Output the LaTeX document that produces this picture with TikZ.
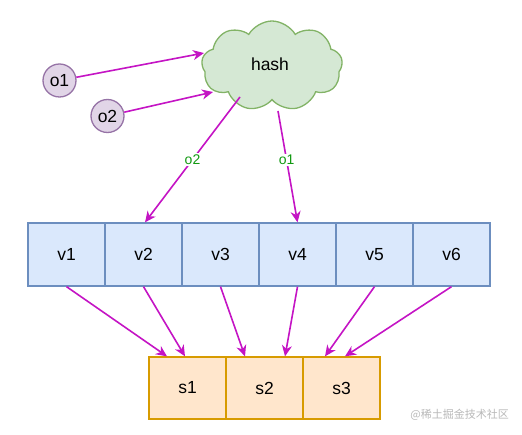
\documentclass[tikz,border=0pt]{standalone}
\usepackage{fontspec}
\setmainfont{Liberation Sans}
\newfontfamily\cjk{Noto Sans CJK SC}
\usetikzlibrary{arrows.meta,shapes.symbols}
\definecolor{arr}{HTML}{C414C4}
\definecolor{lblgreen}{HTML}{119911}
\definecolor{pfill}{HTML}{E1D5E7}
\definecolor{pdraw}{HTML}{9673A6}
\definecolor{gfill}{HTML}{D5E8D4}
\definecolor{gdraw}{HTML}{82B366}
\definecolor{bfill}{HTML}{DAE8FC}
\definecolor{bdraw}{HTML}{6C8EBF}
\definecolor{ofill}{HTML}{FFE6CC}
\definecolor{odraw}{HTML}{D79B00}
\tikzset{
  x=1pt,y=-1pt,
  every node/.style={font=\fontsize{17.5}{19}\selectfont},
  obj/.style={circle,fill=pfill,draw=pdraw,line width=1.3pt,minimum size=33pt,inner sep=0pt},
  vbox/.style={rectangle,fill=bfill,draw=bdraw,line width=1.3pt,minimum width=77pt,minimum height=63pt,inner sep=0pt},
  sbox/.style={rectangle,fill=ofill,draw=odraw,line width=1.3pt,minimum width=77pt,minimum height=62pt,inner sep=0pt},
  conn/.style={draw=arr,line width=1.6pt,-{Stealth[length=11pt,width=10pt,inset=3.5pt]}},
  lbl/.style={fill=white,text=lblgreen,inner sep=1.5pt,font=\fontsize{14}{16}\selectfont},
}
\begin{document}
\begin{tikzpicture}
\useasboundingbox (0,0) rectangle (522,435);
\node[cloud,cloud puffs=9,cloud puff arc=120,aspect=1.6,fill=gfill,draw=gdraw,line width=1.3pt,minimum width=141pt,minimum height=90pt,inner sep=0pt] (hash) at (272,66) {};
\node at (270,64) (hashtxt) {hash};
\node[obj] (o1) at (59.5,80.5) {o1};
\node[obj] (o2) at (107.5,116) {o2};
\foreach \i/\x in {1/66.5,2/143.5,3/220.5,4/297.5,5/374.5,6/451.5}
  \node[vbox] (v\i) at (\x,254.5) {v\i};
\foreach \i/\x in {1/187.5,2/264.5,3/341.5}
  \node[sbox] (s\i) at (\x,388) {s\i};
\coordinate (h1) at (204,53);
\coordinate (h2) at (213,92);
\coordinate (h3) at (240,97);
\coordinate (h4) at (278,111);
\draw[conn] (o1) -- (h1);
\draw[conn] (o2) -- (h2);
\draw[conn] (h3) -- node[lbl,pos=0.5] (l2) {o2} ([xshift=1.5pt]v2.north);
\draw[conn] (h4) -- node[lbl,pos=0.44] (l1) {o1} (v4.north);
\draw[conn] (v1.south) -- ([xshift=-20.5pt]s1.north);
\draw[conn] (v2.south) -- ([xshift=-2.5pt]s1.north);
\draw[conn] (v3.south) -- ([xshift=-19.5pt]s2.north);
\draw[conn] (v4.south) -- ([xshift=20.5pt]s2.north);
\draw[conn] (v5.south) -- ([xshift=-16.5pt]s3.north);
\draw[conn] (v6.south) -- ([xshift=3.5pt]s3.north);
\node[text=black!28,font=\cjk\fontsize{11}{13}\selectfont,anchor=east,inner sep=0pt] (wm) at (509,415) {@稀土掘金技术社区};
\end{tikzpicture}
\end{document}
